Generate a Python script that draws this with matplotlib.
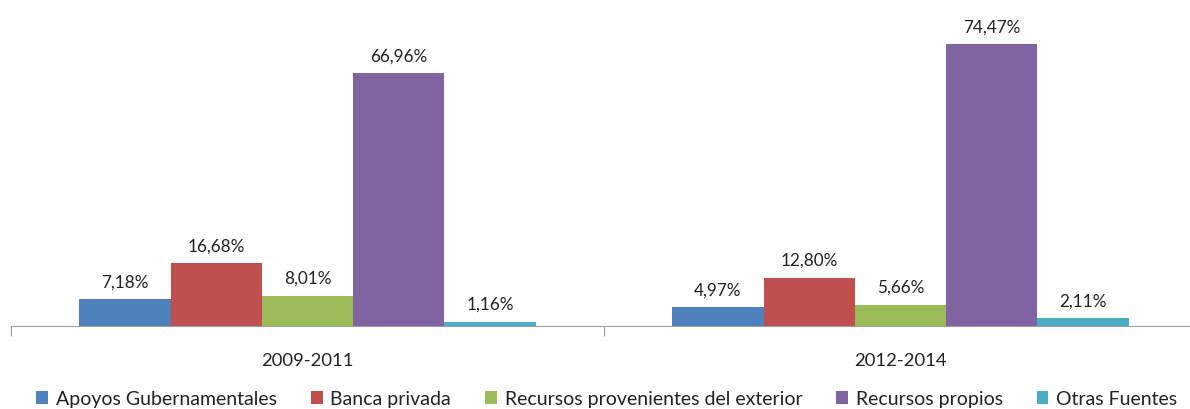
import matplotlib
matplotlib.use("Agg")
import matplotlib.pyplot as plt
import numpy as np

periods = ["2009-2011", "2012-2014"]
series_names = ["Apoyos Gubernamentales", "Banca privada",
                "Recursos provenientes del exterior", "Recursos propios", "Otras Fuentes"]
apoyos = [7.18, 4.97]
banca = [16.68, 12.80]
exterior = [8.01, 5.66]
propios = [66.96, 74.47]
otras = [1.16, 2.11]
series_values = [apoyos, banca, exterior, propios, otras]
colors = ["#4F81BD", "#C0504D", "#9BBB59", "#8064A2", "#4BACC6"]

plt.rcParams['font.family'] = ['Lato', 'DejaVu Sans']

fig = plt.figure(figsize=(11.9, 4.1), dpi=100)
ax = fig.add_axes([11/1190, (410-327)/410, 1186/1190, 327/410])

n = len(series_names)
w = 0.154
centers = np.arange(len(periods)) + 0.5
for i, (name, vals, c) in enumerate(zip(series_names, series_values, colors)):
    xs = centers + (i - (n - 1) / 2) * w
    bars = ax.bar(xs, vals, width=w, color=c, label=name)
    for x, v in zip(xs, vals):
        ax.annotate(f"{v:.2f}%".replace(".", ","), (x, v), xytext=(0, 7),
                    textcoords="offset points", ha="center", va="bottom",
                    fontsize=12.3, color="#222222")

ax.set_xlim(0, 2)
ax.set_ylim(0, 86.5)
ax.set_yticks([])
for s in ["top", "right", "left"]:
    ax.spines[s].set_visible(False)
ax.spines["bottom"].set_color("#A0A0A0")
ax.set_xticks([0, 1, 2])
ax.set_xticklabels([])
ax.set_xticks(centers, minor=True)
ax.set_xticklabels(periods, minor=True, fontsize=13.3, color="#222222")
ax.tick_params(axis="x", which="major", length=7, color="#A0A0A0")
ax.tick_params(axis="x", which="minor", length=0, pad=19)

handles, labels = ax.get_legend_handles_labels()
fig.legend(handles, labels, loc="center", bbox_to_anchor=(0.51, 10/410), ncol=5,
           frameon=False, fontsize=14, handlelength=0.6, handleheight=0.6,
           handletextpad=0.4, columnspacing=1.75, labelcolor="#222222")

fig.savefig("out.png", dpi=100)
